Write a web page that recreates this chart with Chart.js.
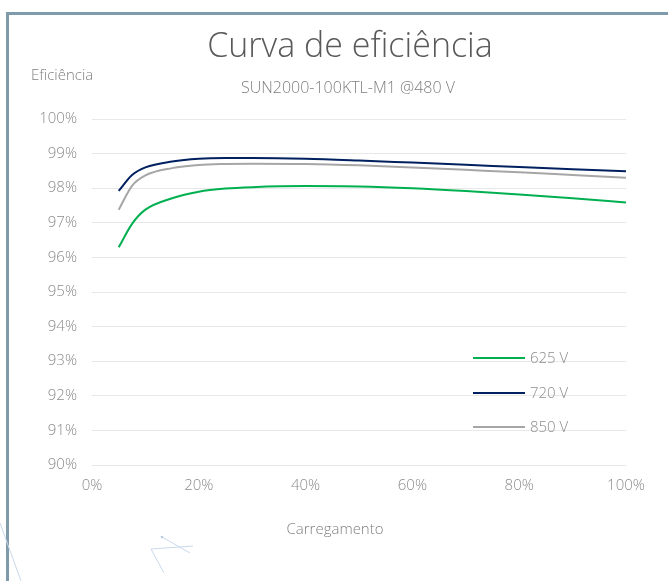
<!DOCTYPE html>
<html>
<head>
<meta charset="utf-8">
<script src="https://cdn.jsdelivr.net/npm/chart.js@4.4.0/dist/chart.umd.min.js"></script>
<style>
  html, body { margin: 0; padding: 0; background: #fff; }
  #wrap { position: relative; width: 668px; height: 581px; overflow: hidden; }
  #frame {
    position: absolute; left: 6px; top: 12px; width: 700px; height: 600px;
    border-left: 3px solid #7f9aa8; border-top: 3px solid #7f9aa8;
    pointer-events: none;
  }
  #deco { position: absolute; left: 0; top: 0; pointer-events: none; }
</style>
</head>
<body>
<div id="wrap">
  <canvas id="myChart" width="668" height="581"></canvas>
  <div id="frame"></div>
  <svg id="deco" width="668" height="581">
    <line x1="0" y1="523" x2="21" y2="581" stroke="#c9d8ec" stroke-width="1"/>
    <line x1="151" y1="549" x2="193" y2="546" stroke="#c9d8ec" stroke-width="1"/>
    <line x1="151" y1="549" x2="164" y2="573" stroke="#c9d8ec" stroke-width="1"/>
    <line x1="162" y1="537" x2="190" y2="553" stroke="#c9d8ec" stroke-width="1"/>
    <circle cx="162" cy="537" r="1.3" fill="#b9cbe4"/>
  </svg>
</div>
<script>
// carregamento (%)
const carga = [5, 7.5, 10, 15, 20, 25, 30, 40, 50, 60, 70, 80, 90, 100]
// eficiencia (%) por tensao
const ef625 = [96.29, 96.97, 97.38, 97.71, 97.90, 97.99, 98.03, 98.06, 98.05, 98.00, 97.92, 97.82, 97.71, 97.59]
const ef720 = [97.92, 98.38, 98.60, 98.77, 98.85, 98.87, 98.87, 98.85, 98.80, 98.74, 98.68, 98.61, 98.55, 98.49]
const ef850 = [97.38, 98.07, 98.37, 98.58, 98.67, 98.70, 98.71, 98.70, 98.66, 98.60, 98.53, 98.46, 98.38, 98.30]
const series = ['625 V', '720 V', '850 V']
const legendAt = [93, 92, 91]   // y value where each legend entry sits
const xTicks = [0, 20, 40, 60, 80, 100]
const yMin = 90, yMax = 100

const FONT = "'Open Sans', 'Noto Sans', sans-serif"
const ctx = document.getElementById('myChart').getContext('2d')

function pontos(arr){
    return carga.map((c, i) => ({x: c, y: arr[i]}))
}

// titles, axis names and the legend inside the plot
const extraText = {
    id: 'extraText',
    afterDraw(chart){
        const c = chart.ctx
        const y = chart.scales.y
        c.save()
        c.textBaseline = 'middle'
        c.textAlign = 'center'
        c.font = '300 34px ' + FONT
        c.fillStyle = '#595959'
        c.fillText('Curva de eficiência', 350, 47)
        c.font = '300 16px ' + FONT
        c.fillStyle = '#7f7f7f'
        c.fillText('SUN2000-100KTL-M1 @480 V', 348, 88)
        c.font = '300 15px ' + FONT
        c.fillText('Carregamento', 335, 530)
        c.textAlign = 'left'
        c.fillText('Eficiência', 31, 76)
        chart.data.datasets.forEach((ds, i) => {
            const py = Math.round(y.getPixelForValue(legendAt[i])) - 3
            c.strokeStyle = ds.borderColor
            c.lineWidth = 2
            c.beginPath()
            c.moveTo(473, py)
            c.lineTo(525, py)
            c.stroke()
            c.fillStyle = '#8c8c8c'
            c.fillText(ds.label, 530, py + 1)
        })
        c.restore()
    }
}

const options = {
    type: 'line',
    data: {
        datasets: [
            {label: series[0], data: pontos(ef625), borderColor: '#00b050', backgroundColor: '#00b050'},
            {label: series[1], data: pontos(ef720), borderColor: '#002060', backgroundColor: '#002060'},
            {label: series[2], data: pontos(ef850), borderColor: '#a6a6a6', backgroundColor: '#a6a6a6'}
        ]
    },
    options: {
        responsive: false,
        animation: false,
        elements: {
            line: {borderWidth: 2, cubicInterpolationMode: 'monotone'},
            point: {radius: 0}
        },
        layout: {padding: {left: 0, right: 42, top: 119, bottom: 0}},
        plugins: {
            legend: {display: false},
            tooltip: {enabled: false},
            title: {display: false}
        },
        scales: {
            x: {
                type: 'linear',
                min: 0,
                max: 100,
                afterBuildTicks: s => { s.ticks = xTicks.map(v => ({value: v})) },
                afterFit: s => { s.height = 116 },
                grid: {display: false, drawTicks: false},
                border: {display: false},
                ticks: {
                    padding: 12,
                    color: '#8c8c8c',
                    font: {family: FONT, size: 15, weight: '300'},
                    callback: v => v + '%'
                }
            },
            y: {
                min: yMin,
                max: yMax,
                afterFit: s => { s.width = 92 },
                grid: {color: '#e8e8e8', drawTicks: false},
                border: {display: false},
                ticks: {
                    stepSize: 1,
                    padding: 15,
                    color: '#8c8c8c',
                    font: {family: FONT, size: 15, weight: '300'},
                    callback: v => v + '%'
                }
            }
        }
    },
    plugins: [extraText]
}

const myChart = new Chart(ctx, options)
</script>
</body>
</html>
